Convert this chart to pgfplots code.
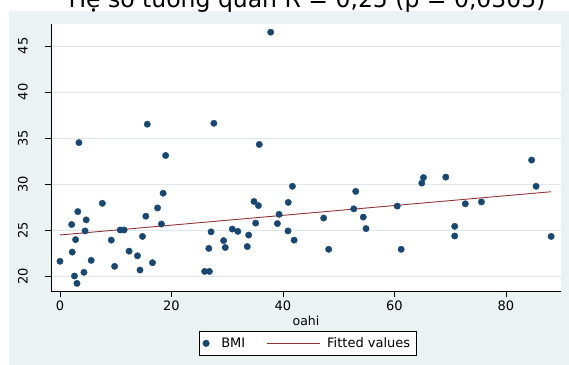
\documentclass[border=0pt]{standalone}
\usepackage{fontspec}
\setmainfont{DejaVu Sans}
\usepackage{pgfplots}
\pgfplotsset{compat=1.18}
\definecolor{bgcol}{RGB}{234,242,243}
\definecolor{gridcol}{RGB}{222,232,236}
\definecolor{navy}{RGB}{26,71,111}
\definecolor{maroon}{RGB}{144,53,59}
\pgfplotsset{
  dotlegend/.style={legend image code/.code={\draw[##1] plot coordinates {(0bp,0bp)};}},
  linelegend/.style={legend image code/.code={\draw[##1] (0bp,0bp) -- (53bp,0bp);}},
}
\begin{document}
\begin{tikzpicture}
\fill[bgcol] (8.5bp,-11bp) rectangle (569bp,-365bp);
\node[anchor=base, font=\fontsize{23.5bp}{26bp}\selectfont] at (307bp,-7bp) {Hệ số tương quan R = 0,25 (p = 0,0305)};
\begin{axis}[
  at={(51bp,-291bp)}, anchor=south west,
  scale only axis, width=510bp, height=267bp,
  xmin=-1.61, xmax=89.87, ymin=18.37, ymax=47.39,
  axis x line*=bottom, axis y line*=left,
  axis line style={black, line width=0.6bp},
  axis background/.style={fill=white},
  xtick={0,20,40,60,80}, ytick={20,25,30,35,40,45},
  tick align=outside, major tick length=6bp,
  tick style={black, line width=0.6bp},
  ymajorgrids, grid style={gridcol, line width=0.8bp},
  /pgf/number format/assume math mode=true,
  ticklabel style={font=\fontsize{13bp}{15bp}\selectfont},
  yticklabel style={rotate=90, anchor=south, inner sep=0pt, yshift=17bp},
  xticklabel style={anchor=north, inner sep=0pt, yshift=-4bp},
  xlabel={oahi},
  xlabel style={font=\fontsize{12.5bp}{14bp}\selectfont, inner sep=0pt, yshift=-5bp},
  legend columns=2,
  legend style={at={(axis description cs:0.503,-0.196)}, anchor=center,
    draw=black, fill=white, line width=0.6bp, inner xsep=4bp, inner ysep=4.5bp,
    font=\fontsize{13bp}{15bp}\selectfont,
    nodes={inner sep=2bp, text depth=0.15em},
    /tikz/column 1/.style={column sep=10bp},
    /tikz/column 2/.style={column sep=19bp},
    /tikz/column 3/.style={column sep=5bp}},
]
\addplot[only marks, mark=*, mark size=3.2bp, mark options={fill=navy, draw=navy}, dotlegend]
 coordinates {
(15.66,36.5) (3.4,34.5) (18.95,33.1) (18.5,29.0) (7.6,27.9) (17.5,27.4)
(3.2,27.0) (15.4,26.5) (4.7,26.1) (2.1,25.6) (18.2,25.65) (4.5,24.9)
(10.8,25.0) (11.5,25.0) (14.8,24.3) (2.8,23.95) (9.2,23.9) (2.2,22.6)
(12.4,22.7) (13.9,22.2) (0,21.6) (5.6,21.7) (9.8,21.05) (16.6,21.45)
(14.35,20.65) (4.3,20.4) (2.6,20.0) (3.05,19.2)
(37.8,46.5) (27.6,36.6) (35.75,34.3) (41.7,29.75) (34.8,28.1) (35.6,27.65)
(40.95,28.0) (39.3,26.7) (35.1,25.75) (39.0,25.7) (27.1,24.8) (30.9,25.1)
(31.9,24.85) (40.9,24.9) (33.85,24.45) (29.35,23.85) (42.0,23.9) (26.7,23.0)
(29.65,23.1) (33.6,23.2) (25.95,20.5) (26.8,20.5)
(53.05,29.2) (65.2,30.7) (64.9,30.1) (60.5,27.6) (52.7,27.3) (47.3,26.3)
(54.4,26.4) (54.9,25.15) (48.2,22.9) (61.2,22.9)
(69.2,30.75) (84.6,32.6) (85.4,29.75) (72.7,27.85) (75.6,28.05) (70.8,25.4)
(70.8,24.35) (88.1,24.3)
};
\addlegendentry{BMI}
\addplot[maroon, line width=0.9bp, mark=none, linelegend]
 coordinates {(0,24.46) (88.1,29.16)};
\addlegendentry{Fitted values\hspace{11bp}}
\end{axis}
\pgfresetboundingbox
\useasboundingbox (0,0) rectangle (569bp,-365bp);
\end{tikzpicture}
\end{document}
